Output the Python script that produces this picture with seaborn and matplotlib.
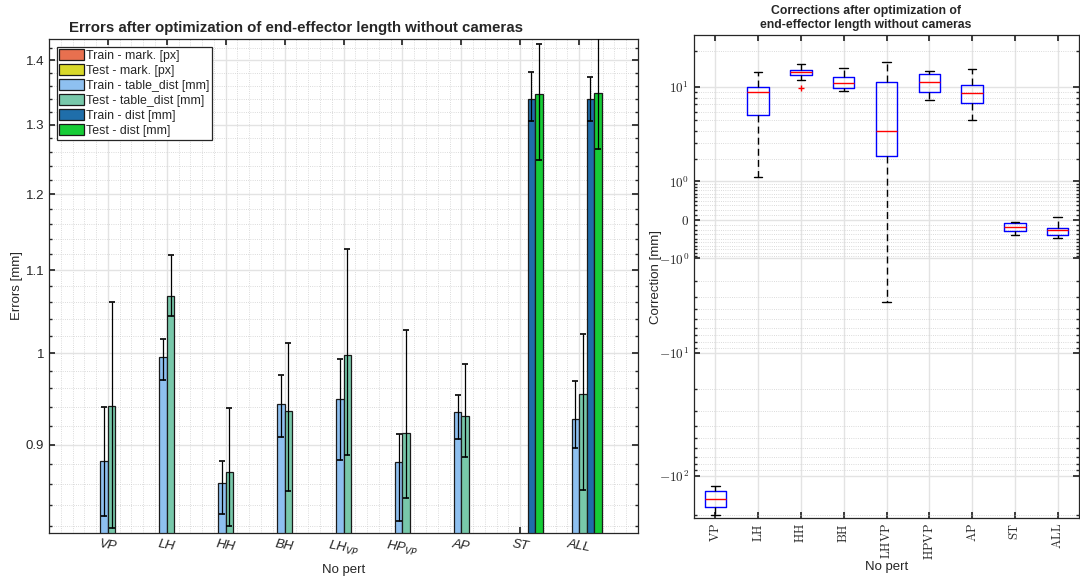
import numpy as np
import pandas as pd
import matplotlib
matplotlib.use("Agg")
import matplotlib.pyplot as plt
from matplotlib.patches import Patch
from matplotlib.ticker import FixedLocator, NullFormatter, MultipleLocator, FixedFormatter
import seaborn as sns

# ---------------- data ----------------
categories = ["VP", "LH", "HH", "BH", "LHVP", "HPVP", "AP", "ST", "ALL"]
left_tick_labels = ["VP", "LH", "HH", "BH", "LH$_{VP}$", "HP$_{VP}$", "AP", "ST", "ALL"]
series = ["Train - mark. [px]", "Test - mark. [px]", "Train - table_dist [mm]",
          "Test - table_dist [mm]", "Train - dist [mm]", "Test - dist [mm]"]
series_colors = ["#E8704F", "#D8D82A", "#8EC0F0", "#78C8AA", "#1F6EAA", "#16CC36"]

# values (NaN = not present)
train_table = [0.883, 0.995, 0.861, 0.9435, 0.949, 0.882, 0.934, np.nan, 0.927]
train_table_lo = [0.829, 0.969, 0.831, 0.9076, 0.8846, 0.824, 0.906, np.nan, 0.8965]
train_table_hi = [0.9395, 1.016, 0.883, 0.975, 0.9937, 0.9107, 0.953, np.nan, 0.9684]
test_table = [0.941, 1.068, 0.8725, 0.936, 0.9977, 0.912, 0.930, np.nan, 0.954]
test_table_lo = [0.818, 1.043, 0.820, 0.853, 0.8897, 0.846, 0.887, np.nan, 0.854]
test_table_hi = [1.0605, 1.119, 0.939, 1.011, 1.1277, 1.0265, 0.988, np.nan, 1.0216]
train_dist = [np.nan] * 7 + [1.340, 1.340]
train_dist_lo = [np.nan] * 7 + [1.3056, 1.3056]
train_dist_hi = [np.nan] * 7 + [1.381, 1.374]
test_dist = [np.nan] * 7 + [1.347, 1.348]
test_dist_lo = [np.nan] * 7 + [1.248, 1.264]
test_dist_hi = [np.nan] * 7 + [1.4265, 1.45]

# box plot statistics of corrections
box_whislo = [-200.0, 1.18, 11.4, 9.18, -3.35, 7.61, 5.08, -0.31, -0.382]
box_q1 = [-176.0, 5.58, 12.5, 9.75, 2.14, 9.06, 7.15, -0.219, -0.318]
box_med = [-152.0, 8.94, 13.4, 10.75, 3.99, 10.97, 8.87, -0.134, -0.19]
box_q3 = [-131.0, 10.0, 13.9, 12.2, 10.97, 12.8, 10.4, -0.062, -0.148]
box_whishi = [-119.0, 13.3, 15.55, 14.5, 16.06, 13.6, 14.0, -0.037, 0.05]
box_fliers = [[], [], [9.69], [], [], [], [], [], []]

# ---------------- style ----------------
sns.set_theme(style="ticks")
plt.rcParams["font.family"] = ["Liberation Sans", "DejaVu Sans"]
plt.rcParams["axes.edgecolor"] = "#262626"
plt.rcParams["axes.linewidth"] = 0.9

fig = plt.figure(figsize=(10.8, 5.78), dpi=100)
axL = fig.add_axes([49 / 1080, (578 - 533) / 578, 589 / 1080, (533 - 39) / 578])
axR = fig.add_axes([694 / 1080, (578 - 518) / 578, 385 / 1080, (518 - 35) / 578])

# ---------------- left: grouped bars ----------------
rows = []
vals = [None, None, train_table, test_table, train_dist, test_dist]
los = [None, None, train_table_lo, test_table_lo, train_dist_lo, test_dist_lo]
his = [None, None, train_table_hi, test_table_hi, train_dist_hi, test_dist_hi]
for si, s in enumerate(series):
    if vals[si] is None:
        continue
    for ci, c in enumerate(categories):
        v = vals[si][ci]
        if not np.isnan(v):
            rows.append({"category": c, "series": s, "value": v})
df = pd.DataFrame(rows)

bar_width = 0.765
sns.barplot(data=df, x="category", y="value", hue="series", order=categories,
            hue_order=series, palette=dict(zip(series, series_colors)),
            width=bar_width, saturation=1, edgecolor="#1a1a1a", linewidth=0.9,
            errorbar=None, legend=False, ax=axL, zorder=2)

nser = len(series)
for si in range(nser):
    if vals[si] is None:
        continue
    for ci in range(len(categories)):
        v = vals[si][ci]
        if np.isnan(v):
            continue
        x = ci + bar_width / nser * (si - (nser - 1) / 2)
        axL.errorbar([x], [v], yerr=[[v - los[si][ci]], [his[si][ci] - v]],
                     fmt="none", ecolor="black", elinewidth=0.9, capsize=2.5,
                     capthick=1.2, zorder=3)

axL.set_yscale("log")
axL.set_ylim(0.813, 1.435)
axL.set_xlim(-1, 9)
axL.yaxis.set_major_locator(FixedLocator([0.9, 1.0, 1.1, 1.2, 1.3, 1.4]))
axL.yaxis.set_major_formatter(FixedFormatter(["0.9", "1", "1.1", "1.2", "1.3", "1.4"]))
minors = [round(0.82 + 0.02 * k, 2) for k in range(31)]
minors = [m for m in minors if round(m * 10, 6) != round(m * 10)]
axL.yaxis.set_minor_locator(FixedLocator(minors))
axL.yaxis.set_minor_formatter(NullFormatter())
axL.xaxis.set_minor_locator(MultipleLocator(0.2))
axL.set_xticks(range(len(categories)))
axL.set_xticklabels(left_tick_labels, rotation=-10, style="italic", fontsize=9.5,
                    ha="center")
axL.tick_params(axis="both", which="both", direction="in", top=True, right=True,
                labelsize=9.5, colors="#262626")
axL.tick_params(axis="x", which="minor", length=0)
axL.tick_params(axis="y", which="minor", length=2.5)
axL.tick_params(axis="both", which="major", length=4.5)
axL.grid(which="major", color="#e3e3e3", lw=1.0, ls="-", zorder=0)
axL.grid(which="minor", color="#cfcfcf", lw=0.6, ls=":", zorder=0)
axL.set_axisbelow(True)
for sp in axL.spines.values():
    sp.set_visible(True)
axL.set_xlabel("No pert", fontsize=9.5, color="#262626", labelpad=4)
axL.set_ylabel("Errors [mm]", fontsize=9.5, color="#262626", labelpad=2)
axL.set_title("Errors after optimization of end-effector length without cameras",
              fontsize=10.8, fontweight="bold", x=0.419, pad=5)

handles = [Patch(facecolor=c, edgecolor="#1a1a1a", lw=0.9) for c in series_colors]
leg = axL.legend(handles, series, loc="upper left", bbox_to_anchor=(0.013, 0.984),
                 fontsize=8.9, frameon=True, fancybox=False, edgecolor="#262626",
                 framealpha=1, borderpad=0.2, labelspacing=0.18, handlelength=2.0,
                 handleheight=1.0, handletextpad=0.15, borderaxespad=0)
leg.get_frame().set_linewidth(0.9)

# ---------------- right: box plot on symmetric log scale ----------------
def fwd(y):
    y = np.asarray(y, dtype=float)
    return np.sign(y) * np.log10(1 + np.abs(y))

def inv(y):
    y = np.asarray(y, dtype=float)
    return np.sign(y) * (10 ** np.abs(y) - 1)

axR.set_yscale("function", functions=(fwd, inv))

stats = []
for i in range(len(categories)):
    stats.append({"med": box_med[i], "q1": box_q1[i], "q3": box_q3[i],
                  "whislo": box_whislo[i], "whishi": box_whishi[i],
                  "fliers": box_fliers[i]})
axR.bxp(stats, positions=range(1, len(categories) + 1), widths=0.5, capwidths=0.2,
        showfliers=True,
        boxprops=dict(color="#0000ff", lw=1.0),
        medianprops=dict(color="#ff0000", lw=1.0),
        whiskerprops=dict(color="black", lw=1.0, ls=(0, (5, 3))),
        capprops=dict(color="black", lw=1.0),
        flierprops=dict(marker="+", markeredgecolor="#ff0000", markersize=5, lw=0))

axR.set_ylim(-213, 26.9)
axR.set_xlim(0.5, 9.5)
major_y = [-100, -10, -1, 0, 1, 10]
major_lbl = [r"$-10^{2}$", r"$-10^{1}$", r"$-10^{0}$", r"$0$", r"$10^{0}$", r"$10^{1}$"]
axR.yaxis.set_major_locator(FixedLocator(major_y))
axR.yaxis.set_major_formatter(FixedFormatter(major_lbl))
mins = []
for sgn in (1, -1):
    mins += [sgn * k / 10 for k in range(1, 10)]
    mins += [sgn * k for k in range(2, 10)]
    mins += [sgn * k * 10 for k in range(2, 10)]
    mins += [sgn * 200]
mins = [m for m in mins if -213 <= m <= 26.9]
axR.yaxis.set_minor_locator(FixedLocator(mins))
axR.yaxis.set_minor_formatter(NullFormatter())
axR.set_xticks(range(1, len(categories) + 1))
axR.set_xticklabels([r"$\mathrm{%s}$" % c for c in categories], rotation=90, fontsize=9)
for lbl in axR.get_xticklabels() + axR.get_yticklabels():
    lbl.set_math_fontfamily("cm")
for lbl in axR.get_yticklabels():
    lbl.set_fontsize(9.5)
axR.tick_params(axis="both", which="both", direction="in", top=True, right=True,
                colors="#262626")
axR.tick_params(axis="both", which="major", length=4.5)
axR.tick_params(axis="y", which="minor", length=2.5)
axR.grid(which="major", color="#e3e3e3", lw=1.0, ls="-", zorder=0)
axR.grid(which="minor", axis="y", color="#cfcfcf", lw=0.6, ls=":", zorder=0)
axR.set_axisbelow(True)
for sp in axR.spines.values():
    sp.set_visible(True)
axR.set_xlabel("No pert", fontsize=9.5, color="#262626", labelpad=1)
axR.set_ylabel("Correction [mm]", fontsize=9.5, color="#262626", labelpad=-2)
axR.set_title("Corrections after optimization of\nend-effector length without cameras",
              fontsize=8.8, fontweight="bold", x=0.447, pad=5, linespacing=1.25)

fig.savefig("out.png", dpi=100)
